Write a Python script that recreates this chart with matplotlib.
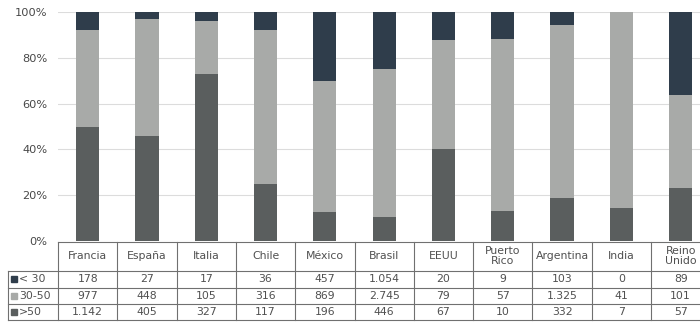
import matplotlib
matplotlib.use("Agg")
import matplotlib.pyplot as plt
import numpy as np

countries = ["Francia", "España", "Italia", "Chile", "México", "Brasil", "EEUU",
             "Puerto\nRico", "Argentina", "India", "Reino\nUnido"]
series_names = ["< 30", "30-50", ">50"]
lt30 = [178, 27, 17, 36, 457, 1054, 20, 9, 103, 0, 89]
mid = [977, 448, 105, 316, 869, 2745, 79, 57, 1325, 41, 101]
gt50 = [1142, 405, 327, 117, 196, 446, 67, 10, 332, 7, 57]
yticks = [0, 20, 40, 60, 80, 100]

colors = {"< 30": "#2f3d4b", "30-50": "#a8aaa8", ">50": "#5a5e5e"}
text_color = "#505050"

W, H = 700, 324
fig = plt.figure(figsize=(7, 3.24), dpi=100)
fig.patch.set_facecolor("white")

colw = 59.3
x0 = 58
def px_to_col(p):
    return -0.5 + (p - x0) / colw

top_px, zero_px = 12, 241
ax = fig.add_axes([x0 / W, (H - zero_px) / H, (W - x0) / W, (zero_px - top_px) / H])
n = len(countries)
x = np.arange(n)
tot = np.array(lt30) + np.array(mid) + np.array(gt50)
p_gt = np.array(gt50) / tot * 100
p_mid = np.array(mid) / tot * 100
p_lt = np.array(lt30) / tot * 100
bw = 0.39
ax.bar(x, p_gt, bw, color=colors[">50"], zorder=3)
ax.bar(x, p_mid, bw, bottom=p_gt, color=colors["30-50"], zorder=3)
ax.bar(x, p_lt, bw, bottom=p_gt + p_mid, color=colors["< 30"], zorder=3)
ax.set_xlim(-0.5, px_to_col(W))
ax.set_ylim(0, 100)
ax.set_yticks(yticks)
ax.set_yticklabels([f"{t}%" for t in yticks], fontsize=8.2, color="#484848")
ax.tick_params(axis="y", length=0, pad=7.5)
ax.set_xticks([])
for s in ax.spines.values():
    s.set_visible(False)
ax.grid(axis="y", color="#dcdcdc", lw=0.8, zorder=0)
ax.set_axisbelow(True)

# table
tax = fig.add_axes([0, 0, 1, (H - zero_px) / H])
tax.set_xlim(px_to_col(0), px_to_col(W))
tax.set_ylim(H, zero_px)
tax.axis("off")
lc = "#707070"
lw = 0.8
left_lab = px_to_col(8)
right_end = px_to_col(W + 20)
rows_y = [270.5, 287.5, 304, 320]
tax.plot([-0.5, right_end], [241.5, 241.5], color=lc, lw=lw, clip_on=False)
for yy in rows_y:
    tax.plot([left_lab, right_end], [yy, yy], color=lc, lw=lw, clip_on=False)
for c in range(n + 1):
    tax.plot([c - 0.5, c - 0.5], [241.5, 320], color=lc, lw=lw, clip_on=False)
tax.plot([left_lab, left_lab], [rows_y[0], 320], color=lc, lw=lw, clip_on=False)

for i, name in enumerate(countries):
    tax.text(i, 256, name, ha="center", va="center", fontsize=7.8,
             color=text_color, linespacing=1.05)

data_rows = [lt30, mid, gt50]
def fmt(v):
    return f"{v:,}".replace(",", ".")
for r, (name, vals) in enumerate(zip(series_names, data_rows)):
    yc = (rows_y[r] + rows_y[r + 1]) / 2
    tax.plot([px_to_col(14)], [yc], marker="s", ms=4.5, color=colors[name], clip_on=False)
    tax.text(px_to_col(19), yc, name, ha="left", va="center", fontsize=7.8, color=text_color)
    for i, v in enumerate(vals):
        tax.text(i, yc, fmt(v), ha="center", va="center", fontsize=7.8, color=text_color)

fig.savefig("out.png", dpi=100, facecolor="white")
